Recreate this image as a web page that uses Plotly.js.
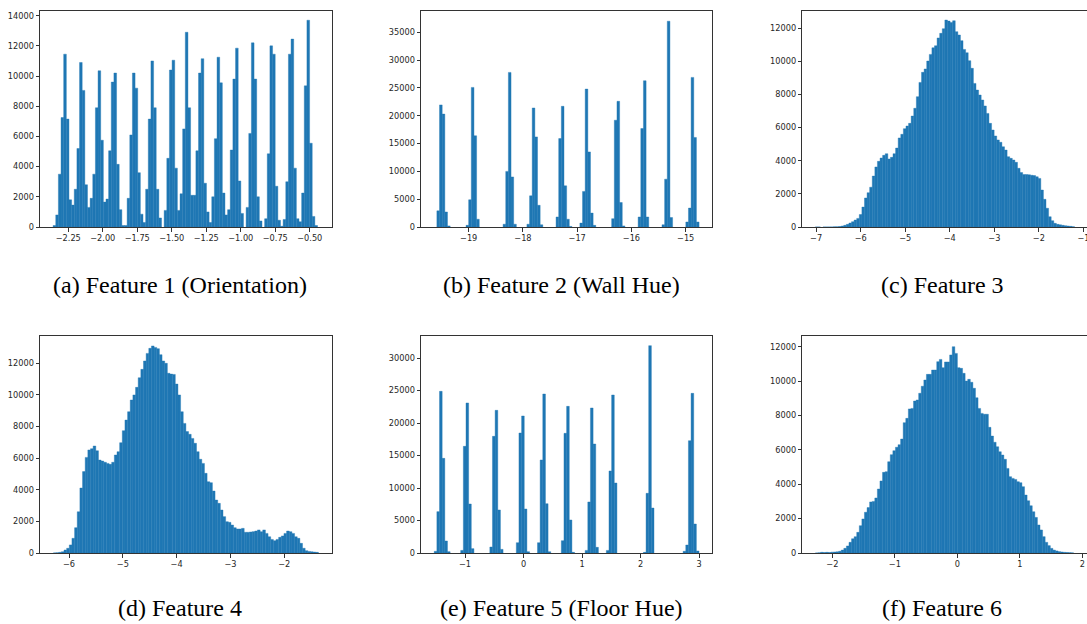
<!DOCTYPE html>
<html>
<head>
<meta charset="utf-8">
<script src="https://cdn.plot.ly/plotly-3.0.1.min.js"></script>
<style>html,body{margin:0;padding:0;background:#fff;}#chart{width:1087px;height:624px;}</style>
</head>
<body>
<div id="chart"></div>
<script>
// ---- Data: histogram counts (100 bins each) and bin ranges ----
const captions = ["(a) Feature 1 (Orientation)", "(b) Feature 2 (Wall Hue)", "(c) Feature 3",
                  "(d) Feature 4", "(e) Feature 5 (Floor Hue)", "(f) Feature 6"];

const binRangeA = [-2.36, -0.444];
const countsA = [100,800,3500,7250,11450,7150,1800,1450,2500,5200,
 10900,9050,2800,1300,1900,3500,7900,10350,5750,1650,
 1850,5050,9600,10200,4150,1150,100,100,1900,6100,
 10200,9200,3600,850,300,2500,7150,11000,7900,2500,
 600,0,1100,4550,10400,11050,3900,1100,2200,6500,
 12900,7900,2100,2100,5050,10200,11150,2900,1000,300,
 2000,5850,11250,9550,2250,800,1150,5100,9800,11850,
 3050,900,0,1300,6200,12200,9800,2000,400,0,
 550,4850,12000,11450,2700,450,50,500,3000,11450,
 12450,3900,550,350,2250,9350,13700,5550,700,100];

const binRangeB = [-19.635, -14.753];
const countsB = [0,2900,21950,20300,2700,200,0,0,0,0,
 0,0,300,4900,25100,16400,1400,0,0,0,
 0,0,0,0,0,0,500,10000,27800,9000,
 500,0,0,0,0,500,5600,21400,16200,3900,
 400,0,0,0,0,0,1800,15900,21700,7400,
 1400,100,0,0,0,700,6400,24800,13500,2500,
 300,0,0,0,0,0,0,1500,19200,22600,
 4400,200,0,0,0,0,0,1800,17700,26300,
 1800,0,0,0,0,0,400,8600,37000,1700,
 0,0,0,0,0,900,3400,26900,16100,900];

const binRangeC = [-7.02, -1.2];
const countsC = [1,2,0,1,2,3,5,8,12,25,
 60,100,160,240,320,420,520,750,1200,1750,
 2070,2400,3070,3620,3960,4160,4320,4420,4100,4200,
 4420,4760,5370,5590,5930,6090,6250,6690,7160,7860,
 8720,9330,9530,10010,10410,10810,10930,11400,11680,11960,
 12480,12420,12340,12440,11780,11580,11240,10710,10510,10030,
 9570,8660,8260,7960,7660,7300,6850,6250,5850,5490,
 5250,5110,4840,4640,4240,4140,4040,3900,3540,3280,
 3160,3160,3150,3120,3100,3030,2930,2230,1670,1130,
 620,380,220,160,130,100,80,60,40,20];

const binRangeD = [-6.29, -1.366];
const countsD = [5,15,40,80,190,300,510,930,1600,2610,
 4110,5150,6050,6520,6600,6770,6470,5880,5820,5740,
 5670,5610,5740,6200,6410,6980,7740,8410,8940,9680,
 10000,10480,11090,11620,12150,12630,12950,13100,13010,12930,
 12550,12150,12000,11370,11320,11300,10690,10000,8940,8200,
 7680,7510,7250,6940,6410,5930,5670,5040,4510,4450,
 3920,3350,3140,2720,2300,1980,1940,1770,1600,1520,
 1520,1560,1310,1310,1330,1350,1390,1460,1350,1460,
 1240,1030,860,780,860,990,1080,1240,1390,1350,
 1240,1030,930,610,300,150,100,80,60,40];

const binRangeE = [-1.526, 3.0];
const countsE = [260,6360,24870,14560,1850,200,0,0,0,0,
 400,16410,23080,7540,670,0,0,0,0,0,
 0,920,17950,21950,6620,560,0,0,0,0,
 0,1590,18460,21080,6770,200,0,0,0,1590,
 14310,24460,7590,200,0,0,0,0,1900,18410,
 22560,5080,100,0,0,0,0,400,7850,22310,
 16770,870,0,0,0,400,12620,24310,10770,0,
 0,0,0,0,0,0,0,0,0,100,
 9180,31900,6920,0,0,0,0,0,0,0,
 0,0,0,0,260,1230,17280,24560,4460,310];

const binRangeF = [-2.27, 1.86];
const countsF = [5,10,40,30,40,30,50,60,70,100,
 170,270,410,620,830,950,1200,1590,1980,2370,
 2640,2970,3000,3200,3720,4190,4690,4730,5310,5720,
 5950,6150,6300,6630,7580,7830,8380,8410,8840,8900,
 9290,9700,10060,10390,10390,10640,10640,11130,11260,10780,
 11110,11110,11520,12000,11610,10780,10740,10450,10000,10100,
 9930,9580,9030,8410,8120,8070,8070,7310,6800,6440,
 6180,5890,5700,5450,4920,4440,4340,4280,4150,4090,
 3860,3370,3040,2750,2400,2070,1630,1340,950,620,
 430,270,170,120,80,60,40,30,20,10];

const xTicksA = {tick0: -2.25, dtick: 0.25, fmt: '.2f'};

// ---- Layout geometry (pixels) ----
const W = 1087, H = 624;
const panels = [
  {counts: countsA, bins: binRangeA, xr: [-2.455, -0.339], yr: [0, 14330], ydt: 2000, xt: xTicksA,
   px: [40, 332], py: [10.7, 227], mirrorY: true, cap: [180, 285]},
  {counts: countsB, bins: binRangeB, xr: [-19.879, -14.509], yr: [0, 38890], ydt: 5000, xt: {tick0: 0, dtick: 1},
   px: [421, 712.3], py: [10.7, 227], mirrorY: true, cap: [561, 285]},
  {counts: countsC, bins: binRangeC, xr: [-7.31, -0.92], yr: [0, 13045], ydt: 2000, xt: {tick0: 0, dtick: 1},
   px: [802.3, 1087], py: [10.7, 227], mirrorY: false, cap: [942, 285]},
  {counts: countsD, bins: binRangeD, xr: [-6.539, -1.119], yr: [0, 13730], ydt: 2000, xt: {tick0: 0, dtick: 1},
   px: [40, 331.7], py: [336, 553], mirrorY: true, cap: [180, 608]},
  {counts: countsE, bins: binRangeE, xr: [-1.752, 3.227], yr: [0, 33385], ydt: 5000, xt: {tick0: 0, dtick: 1},
   px: [421, 712.3], py: [336, 553], mirrorY: true, cap: [561, 608]},
  {counts: countsF, bins: binRangeF, xr: [-2.48, 2.075], yr: [0, 12621], ydt: 2000, xt: {tick0: 0, dtick: 1},
   px: [802.3, 1087], py: [336, 553], mirrorY: false, cap: [942, 608]}
];

const traces = [];
const layout = {
  width: W, height: H,
  margin: {l: 0, r: 0, t: 0, b: 0, pad: 0},
  paper_bgcolor: '#ffffff', plot_bgcolor: '#ffffff',
  showlegend: false, barmode: 'overlay', hovermode: false,
  annotations: []
};
const tickFont = {family: 'DejaVu Sans', size: 8.2, color: '#262626'};

panels.forEach((p, k) => {
  const n = p.counts.length;
  const w = (p.bins[1] - p.bins[0]) / n;
  const centers = p.counts.map((_, i) => p.bins[0] + (i + 0.5) * w);
  const sfx = k === 0 ? '' : String(k + 1);
  traces.push({
    type: 'bar', x: centers, y: p.counts, width: w,
    xaxis: 'x' + sfx, yaxis: 'y' + sfx,
    marker: {color: '#1f77b4',
             line: {width: p.counts.map(c => c > 0 ? 0.4 : 0), color: '#1f77b4'}}
  });
  const common = {
    showgrid: false, zeroline: false, showline: true, linecolor: '#333333', linewidth: 1,
    ticks: 'outside', ticklen: 3.5, tickwidth: 1, tickcolor: '#333333',
    tickfont: tickFont, fixedrange: true, ticklabeloverflow: 'allow'
  };
  layout['xaxis' + sfx] = Object.assign({}, common, {
    domain: [p.px[0] / W, p.px[1] / W], anchor: 'y' + sfx,
    range: p.xr, tickmode: 'linear', tick0: p.xt.tick0, dtick: p.xt.dtick,
    tickformat: p.xt.fmt || 'd', mirror: true
  });
  layout['yaxis' + sfx] = Object.assign({}, common, {
    domain: [1 - p.py[1] / H, 1 - p.py[0] / H], anchor: 'x' + sfx,
    range: p.yr, tickmode: 'linear', tick0: 0, dtick: p.ydt, tickformat: 'd',
    mirror: p.mirrorY
  });
  layout.annotations.push({
    xref: 'paper', yref: 'paper', x: p.cap[0] / W, y: 1 - p.cap[1] / H,
    xanchor: 'center', yanchor: 'middle', showarrow: false,
    text: captions[k], font: {family: 'Liberation Serif', size: 24, color: '#000000'}
  });
});

Plotly.newPlot('chart', traces, layout, {staticPlot: true, displayModeBar: false});
</script>
</body>
</html>
